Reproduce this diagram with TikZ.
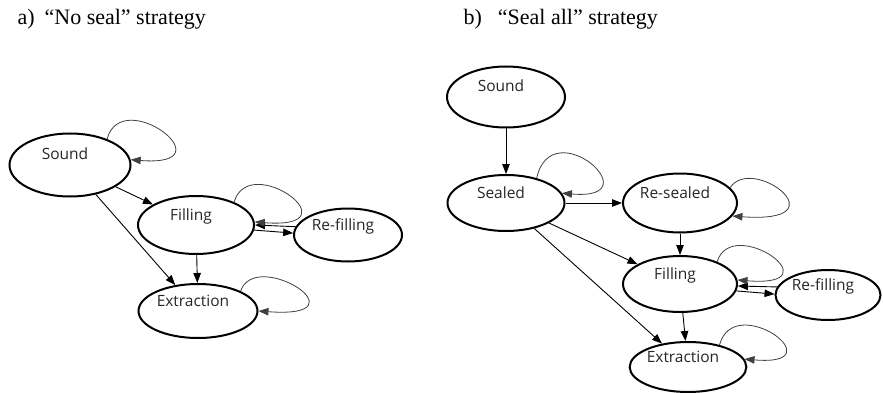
\documentclass[tikz,border=0pt]{standalone}
\usepackage{fontspec}
\setmainfont{Liberation Serif}
\newfontfamily\statefont{Open Sans}
\usetikzlibrary{arrows.meta,shapes.geometric}

\begin{document}
\begin{tikzpicture}[x=1pt,y=-1pt,
  state/.style={ellipse,draw,line width=2pt,inner sep=0pt,text=black!85,font=\statefont\fontsize{15.5}{15.5}\selectfont,text height=11pt,text depth=21pt,execute at end node={\hspace{10pt}}},
  arr/.style={-{Triangle[length=10pt,width=7.5pt]},line width=0.9pt},
  selfloop/.style={-{Triangle[length=10pt,width=7.5pt]},line width=0.8pt,draw=black!75,fill=none},
  title/.style={anchor=base west,font=\fontsize{22}{22}\selectfont}]
  \useasboundingbox (0,0) rectangle (883,393);

  % a) no seal
  \node[title] (ta) at (14,25) {a)\hspace{10pt}“No seal” strategy};
  \node[state,minimum width=121pt,minimum height=63pt] (sa) at (70,165) {Sound};
  \node[state,minimum width=116pt,minimum height=58pt] (fa) at (196,225) {Filling};
  \node[state,minimum width=108pt,minimum height=53pt] (rfa) at (348,235) {Re-filling};
  \node[state,minimum width=119pt,minimum height=54pt] (ea) at (198,311) {Extraction};

  \draw[arr] (sa) -- (fa);
  \draw[arr] (sa) -- (ea);
  \draw[arr] (fa) -- (ea);
  \draw[arr] (rfa.171) -- (fa.0);
  \draw[arr] (fa.-5) -- (rfa.178);
  \draw[selfloop] (sa.35) .. controls +(15,-55) and +(100,8) .. (sa.5);
  \draw[selfloop] (fa.31) .. controls +(15,-52) and +(103,8) .. (fa.3);
  \draw[selfloop] (ea.25) .. controls +(15,-44) and +(110,8) .. (ea.0);

  % b) seal all
  \node[title] (tb) at (460,25) {b)\hspace{16pt}“Seal all” strategy};
  \node[state,minimum width=118pt,minimum height=61pt] (sb) at (506,97) {Sound};
  \node[state,minimum width=117pt,minimum height=56pt] (slb) at (506,203) {Sealed};
  \node[state,minimum width=114pt,minimum height=59pt] (rsb) at (680,203) {Re-sealed};
  \node[state,minimum width=114pt,minimum height=56pt] (fb) at (680,284) {Filling};
  \node[state,minimum width=105pt,minimum height=50pt] (rfb) at (828,295) {Re-filling};
  \node[state,minimum width=115pt,minimum height=50pt] (eb) at (688,367) {Extraction};

  \draw[arr] (sb) -- (slb);
  \draw[arr] (slb) -- (rsb);
  \draw[arr] (rsb) -- (fb);
  \draw[arr] (slb) -- (fb);
  \draw[arr] (slb) -- (eb);
  \draw[arr] (fb) -- (eb);
  \draw[arr] (rfb.171) -- (fb.-2);
  \draw[arr] (fb.-7) -- (rfb.179);
  \draw[selfloop] (slb.39) .. controls +(15,-68) and +(92,8) .. (slb.10);
  \draw[selfloop] (rsb.17) .. controls +(22,-34) and +(112,8) .. (rsb.-14);
  \draw[selfloop] (fb.31) .. controls +(15,-48) and +(100,8) .. (fb.4);
  \draw[selfloop] (eb.35) .. controls +(15,-55) and +(94,8) .. (eb.8);
\end{tikzpicture}
\end{document}
